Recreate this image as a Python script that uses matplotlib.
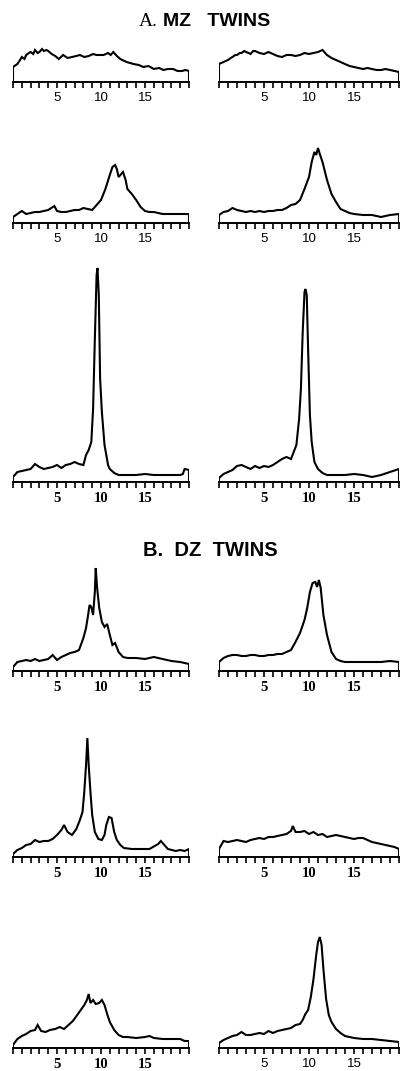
import matplotlib.pyplot as plt

# curve heights (pixel units above the axis line), x in 0..20
mz1a_x = [0, 0, 0.5, 0.8, 1, 1.3, 1.5, 1.8, 2, 2.3, 2.5, 2.8, 3, 3.3, 3.5, 3.8, 4, 4.4, 4.8, 5.2, 5.7, 6.2, 6.7, 7.2, 7.6, 8.1, 8.6, 9.1, 9.5, 10.3, 10.8, 11.1, 11.4, 11.8, 12.2, 12.9, 13.7, 14.3, 14.8, 15.4, 16, 16.6, 17.1, 17.6, 18.2, 18.7, 19.2, 19.6, 20, 20]
mz1a_y = [0, 15, 18, 22, 25, 23, 27, 29, 30, 28, 32, 29, 30, 33, 31, 32, 31, 28, 26, 23, 27, 24, 25, 26, 27, 25, 26, 28, 27, 27, 29, 27, 30, 26, 23, 20, 18, 17, 15, 16, 13, 14, 12, 13, 13, 11, 11, 12, 11, 0]

mz1b_x = [0, 0, 0.5, 1, 1.3, 1.5, 1.8, 2, 2.3, 2.5, 2.8, 3, 3.3, 3.5, 3.8, 4, 4.5, 5, 5.5, 6, 6.5, 7, 7.5, 8, 8.5, 9, 9.5, 10, 10.5, 11, 11.5, 12, 12.5, 13, 13.5, 14, 14.5, 15, 15.5, 16, 16.5, 17, 17.5, 18, 18.5, 19, 19.5, 20, 20]
mz1b_y = [0, 18, 20, 22, 24, 25, 27, 27, 29, 29, 31, 30, 29, 28, 31, 31, 29, 28, 30, 28, 26, 25, 27, 27, 26, 27, 29, 28, 29, 30, 32, 27, 24, 22, 20, 18, 16, 15, 14, 13, 14, 13, 12, 12, 13, 12, 11, 10, 0]

mz2a_x = [0, 0, 0.5, 1, 1.5, 2, 2.5, 3, 3.5, 4, 4.7, 5, 5.5, 6, 6.5, 7, 7.5, 8, 8.5, 9, 9.5, 10, 10.5, 11, 11.3, 11.6, 11.8, 12, 12.2, 12.5, 12.8, 13, 13.5, 14, 14.5, 15, 15.5, 16, 17, 18, 19, 20, 20]
mz2a_y = [0, 6, 9, 12, 9, 10, 11, 11, 12, 13, 17, 12, 11, 11, 12, 13, 13, 15, 14, 13, 18, 23, 34, 48, 56, 58, 54, 46, 48, 51, 43, 34, 29, 23, 16, 12, 11, 11, 9, 9, 9, 9, 0]

mz2b_x = [0, 0, 0.5, 1, 1.5, 2, 2.5, 3, 3.5, 4, 4.5, 5, 5.5, 6, 6.5, 7, 7.5, 8, 8.5, 9, 9.5, 10, 10.3, 10.6, 10.8, 11, 11.2, 11.5, 12, 12.5, 13, 13.5, 14, 14.5, 15, 16, 17, 18, 18.5, 19, 20, 20]
mz2b_y = [0, 8, 11, 12, 15, 13, 12, 11, 12, 11, 12, 11, 12, 12, 13, 13, 15, 18, 19, 23, 34, 46, 61, 71, 68, 75, 69, 61, 43, 29, 21, 14, 12, 10, 9, 8, 8, 6, 7, 8, 9, 0]

mz3a_x = [0, 0, 0.5, 1, 1.5, 2, 2.5, 3, 3.5, 4, 4.5, 5, 5.5, 6, 6.5, 7, 7.5, 8, 8.3, 8.6, 8.9, 9.1, 9.3, 9.5, 9.6, 9.75, 9.9, 10.1, 10.4, 10.8, 11, 11.5, 12, 13, 14, 15, 16, 17, 18, 19, 19.3, 19.5, 20, 20]
mz3a_y = [0, 5, 10, 11, 12, 13, 18, 15, 13, 14, 15, 17, 14, 17, 18, 20, 18, 17, 27, 32, 40, 73, 143, 207, 214, 187, 103, 70, 37, 17, 13, 9, 7, 7, 7, 8, 7, 7, 7, 7, 8, 13, 12, 0]

mz3b_x = [0, 0, 0.5, 1, 1.5, 2, 2.5, 3, 3.5, 4, 4.5, 5, 5.5, 6, 6.5, 7, 7.5, 8, 8.3, 8.6, 8.9, 9.1, 9.3, 9.5, 9.6, 9.75, 9.9, 10.1, 10.3, 10.6, 11, 11.5, 12, 13, 14, 15, 16, 17, 18, 19, 20, 20]
mz3b_y = [0, 4, 8, 10, 12, 16, 17, 15, 13, 16, 14, 16, 15, 17, 20, 23, 25, 23, 30, 37, 63, 93, 150, 190, 193, 187, 133, 67, 40, 20, 13, 9, 7, 7, 7, 8, 7, 5, 7, 10, 13, 0]

dz1a_x = [0, 0, 0.5, 1, 1.5, 2, 2.5, 3, 3.5, 4, 4.5, 5, 5.5, 6, 6.5, 7, 7.5, 8, 8.3, 8.5, 8.7, 8.9, 9.1, 9.3, 9.4, 9.55, 9.8, 10.1, 10.4, 10.7, 11, 11.3, 11.6, 12, 12.5, 13, 14, 15, 16, 17, 18, 19, 20, 20]
dz1a_y = [0, 4, 9, 10, 11, 10, 12, 10, 11, 12, 16, 11, 14, 16, 18, 19, 21, 33, 43, 54, 66, 64, 56, 79, 103, 84, 63, 49, 44, 47, 36, 26, 28, 19, 14, 13, 13, 12, 14, 12, 10, 9, 7, 0]

dz1b_x = [0, 0, 0.5, 1, 1.5, 2, 2.5, 3, 3.5, 4, 4.5, 5, 5.5, 6, 6.5, 7, 7.5, 8, 8.5, 9, 9.5, 9.8, 10.1, 10.4, 10.7, 10.9, 11.1, 11.3, 11.6, 12, 12.5, 13, 13.5, 14, 15, 16, 17, 18, 19, 20, 20]
dz1b_y = [0, 9, 13, 15, 16, 16, 15, 15, 16, 16, 15, 15, 16, 16, 17, 17, 19, 21, 29, 38, 51, 63, 79, 88, 89, 84, 91, 83, 56, 36, 19, 12, 10, 9, 9, 9, 9, 9, 10, 9, 0]

dz2a_x = [0, 0, 0.5, 1, 1.5, 2, 2.5, 3, 3.5, 4, 4.5, 5, 5.5, 5.8, 6.2, 6.7, 7.2, 7.6, 7.9, 8.1, 8.3, 8.45, 8.6, 8.8, 9.0, 9.3, 9.7, 10.1, 10.4, 10.6, 10.9, 11.2, 11.5, 11.8, 12.2, 12.6, 13.5, 14.5, 15.5, 16.5, 16.8, 17.2, 17.6, 18.5, 19, 19.5, 20, 20]
dz2a_y = [0, 3, 7, 9, 12, 13, 17, 15, 16, 16, 18, 22, 27, 32, 25, 22, 28, 37, 45, 65, 92, 119, 92, 65, 42, 25, 18, 17, 22, 32, 40, 39, 25, 17, 12, 9, 8, 8, 8, 13, 16, 12, 8, 6, 7, 6, 8, 0]

dz2b_x = [0, 0, 0.5, 1, 1.5, 2, 2.5, 3, 3.5, 4, 4.5, 5, 5.5, 6, 6.5, 7, 7.5, 8, 8.2, 8.5, 9, 9.5, 10, 10.5, 11, 11.5, 12, 12.5, 13, 13.5, 14, 14.5, 15, 15.5, 16, 16.5, 17, 17.5, 18, 18.5, 19, 19.5, 20, 20]
dz2b_y = [0, 8, 16, 15, 16, 17, 16, 15, 17, 18, 19, 18, 20, 20, 21, 22, 23, 26, 31, 25, 25, 26, 23, 25, 22, 23, 20, 21, 22, 21, 20, 19, 18, 19, 19, 17, 15, 14, 13, 12, 11, 10, 8, 0]

dz3a_x = [0, 0, 0.5, 1, 1.5, 2, 2.5, 2.8, 3.2, 3.7, 4.2, 4.8, 5.3, 5.8, 6.3, 6.8, 7.3, 7.7, 8.1, 8.4, 8.6, 8.8, 9.1, 9.4, 9.8, 10.1, 10.4, 10.7, 11, 11.5, 12, 12.5, 13, 14, 15, 15.5, 16, 17, 18, 19, 19.5, 20, 20]
dz3a_y = [0, 3, 9, 12, 14, 17, 18, 23, 17, 16, 18, 19, 21, 19, 23, 27, 33, 38, 43, 48, 54, 45, 48, 44, 45, 48, 43, 34, 26, 18, 13, 11, 11, 10, 11, 12, 10, 9, 9, 9, 7, 7, 0]

dz3b_x = [0, 0, 0.5, 1, 1.5, 2, 2.5, 3, 3.5, 4, 4.5, 5, 5.5, 6, 6.5, 7, 7.5, 8, 8.5, 9, 9.3, 9.6, 9.9, 10.2, 10.5, 10.8, 11.0, 11.2, 11.4, 11.6, 11.9, 12.2, 12.5, 13, 13.5, 14, 15, 16, 17, 18, 19, 20, 20]
dz3b_y = [0, 5, 8, 10, 12, 13, 16, 13, 13, 14, 15, 14, 17, 15, 17, 18, 19, 20, 23, 24, 28, 34, 38, 51, 69, 93, 106, 111, 103, 79, 49, 33, 26, 19, 15, 12, 10, 9, 9, 8, 7, 6, 0]

# layout in pixels (figure is 401 x 1071)
baselines = [82, 223, 482, 671, 857, 1048]
left_px = [(13, 189), (219, 399)]
curves = [
    [(mz1a_x, mz1a_y), (mz1b_x, mz1b_y)],
    [(mz2a_x, mz2a_y), (mz2b_x, mz2b_y)],
    [(mz3a_x, mz3a_y), (mz3b_x, mz3b_y)],
    [(dz1a_x, dz1a_y), (dz1b_x, dz1b_y)],
    [(dz2a_x, dz2a_y), (dz2b_x, dz2b_y)],
    [(dz3a_x, dz3a_y), (dz3b_x, dz3b_y)],
]
sans = dict(family='Liberation Sans', weight='normal', fontsize=9.5)
serif = dict(family='Liberation Serif', weight='bold', fontsize=10.5)
fonts = [[sans, sans], [sans, sans], [serif, serif], [serif, serif], [serif, serif], [serif, sans]]
tick_labels = ['5', '10', '15']

W, H = 401, 1071
fig = plt.figure(figsize=(W / 100, H / 100), dpi=100)
fig.patch.set_facecolor('white')

AX_H = 225
for r, base in enumerate(baselines):
    for c in range(2):
        x0, x1 = left_px[c]
        ax = fig.add_axes([x0 / W, (H - base) / H, (x1 - x0) / W, AX_H / H])
        ax.set_facecolor('none')
        xs, ys = curves[r][c]
        ax.plot(xs, ys, color='black', lw=1.5, solid_joinstyle='miter')
        ax.set_xlim(0, 20)
        ax.set_ylim(0, AX_H)
        for s in ['top', 'left', 'right']:
            ax.spines[s].set_visible(False)
        ax.spines['bottom'].set_linewidth(1.4)
        ax.set_yticks([])
        ax.set_xticks([5, 10, 15])
        ax.set_xticklabels(tick_labels, **fonts[r][c])
        ax.set_xticks(range(0, 21), minor=True)
        ax.tick_params(axis='x', which='major', direction='out', length=4, width=1.2, pad=3.5)
        ax.tick_params(axis='x', which='minor', direction='out', length=4, width=1.2)

fig.text(158 / W, 1 - 21 / H, 'A.', ha='right', va='center', fontsize=14,
         family='Liberation Serif')
fig.text(163 / W, 1 - 21 / H, 'MZ   TWINS', ha='left', va='center', fontsize=14,
         family='Liberation Sans', weight='bold')
fig.text(210 / W, 1 - 550 / H, 'B.  DZ  TWINS', ha='center', va='center', fontsize=14.5,
         family='Liberation Sans', weight='bold')

fig.savefig('out.png', dpi=100)
